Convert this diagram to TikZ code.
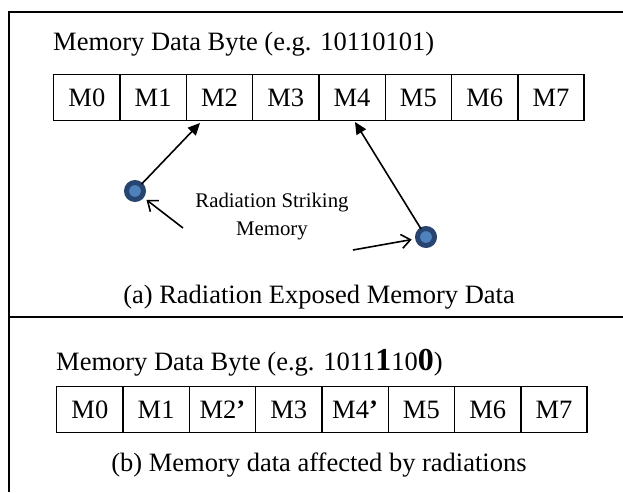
\documentclass[tikz,border=0pt]{standalone}
\usepackage{fontspec}
\setmainfont{Liberation Serif}
\usetikzlibrary{arrows.meta}
\definecolor{ringblue}{RGB}{40,68,112}
\definecolor{dotblue}{RGB}{79,129,189}
\begin{document}
\begin{tikzpicture}[x=1pt,y=-1pt,
  big/.style={font=\fontsize{26.5}{30}\selectfont},
  cell/.style={draw, line width=1.4pt, minimum width=66.3pt, minimum height=46pt, inner sep=0pt, anchor=north west, big},
  frame/.style={line width=1.8pt},
  dot/.style={circle, draw=ringblue, fill=dotblue, line width=5pt, minimum size=17pt, inner sep=0pt, outer sep=1pt},
  hitarrow/.style={line width=1.6pt, -{Triangle[length=12pt,width=11pt]}},
  notearrow/.style={line width=1.6pt, -{Straight Barb[length=9pt,width=14pt]}}]
\useasboundingbox (0,0) rectangle (623,492);
% frame
\draw[frame] (623,12) -- (9,12) -- (9,492);
\draw[frame] (9,317) -- (623,317);
% top row
\node[big, anchor=base west, inner sep=0pt] (title1) at (53,51) {Memory Data Byte (e.g. 10110101)};
\foreach \i in {0,...,7} {
  \node[cell] (t\i) at ({53+\i*66.3},74) {M\i};
}
% circles
\node[dot] (c1) at (135,191) {};
\node[dot] (c2) at (426,237) {};
\coordinate (p2) at (200,123);
\coordinate (p4) at (355,122);
\draw[hitarrow] (c1) -- (p2);
\draw[hitarrow] (c2) -- (p4);
\node[font=\fontsize{20.8}{28}\selectfont, align=center, inner sep=0pt, anchor=base] (rad) at (272,235) {Radiation Striking\\Memory};
\coordinate (a1) at (183,228);
\coordinate (a2) at (353,250);
\draw[notearrow, shorten >=5pt] (a1) -- (c1);
\draw[notearrow, shorten >=5pt] (a2) -- (c2);
\node[big, anchor=base, inner sep=0pt] (capa) at (319,303) {(a) Radiation Exposed Memory Data};
% bottom row
\node[big, anchor=base west, inner sep=0pt] (title2) at (56,370) {Memory Data Byte (e.g. 1011{\fontsize{32}{32}\selectfont\bfseries 1}10{\fontsize{32}{32}\selectfont\bfseries 0})};
\foreach \i/\l in {0/M0,1/M1,2/M2\textbf{’},3/M3,4/M4\textbf{’},5/M5,6/M6,7/M7} {
  \node[cell] (b\i) at ({56+\i*66.3},386) {\l};
}
\node[big, anchor=base, inner sep=0pt] (capb) at (319,471) {(b) Memory data affected by radiations};
\end{tikzpicture}
\end{document}
